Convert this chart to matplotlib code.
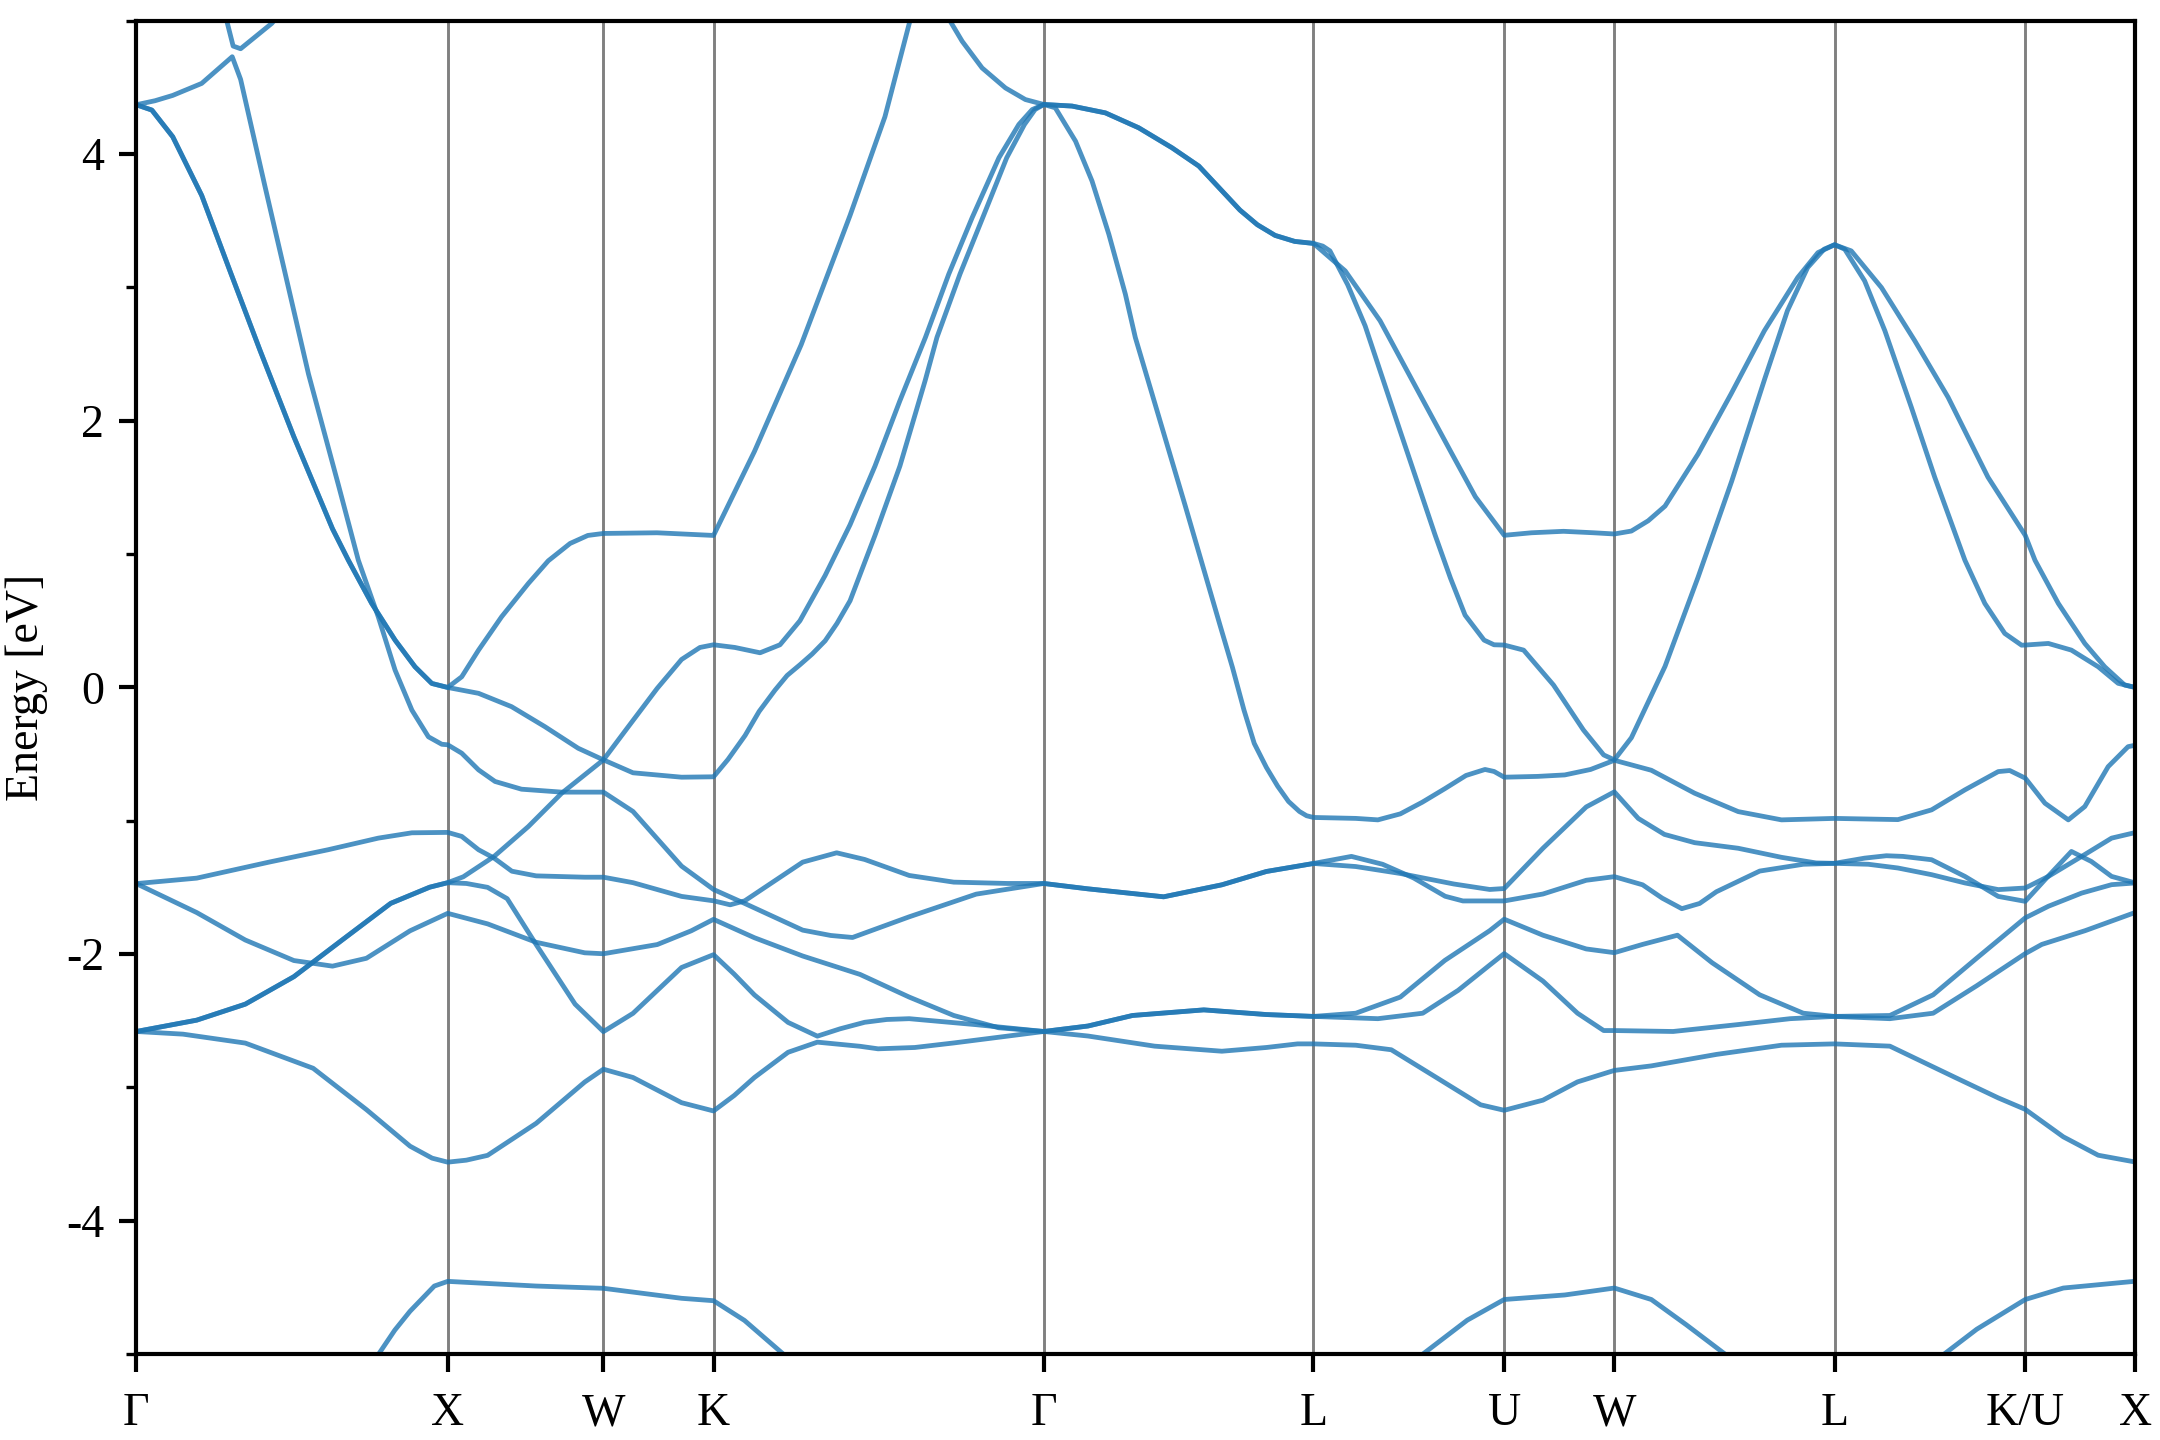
import matplotlib

matplotlib.use("Agg")
import matplotlib.pyplot as plt

plt.rcParams["font.family"] = ["Liberation Serif", "DejaVu Serif"]
plt.rcParams["axes.unicode_minus"] = False

# high-symmetry points along the FCC path (k-distance, 2pi/a units)
KLABELS = ["Γ", "X", "W", "K", "Γ", "L", "U", "W", "L", "K/U", "X"]
KTICKS = [0.0, 1.0, 1.5, 1.8536, 2.9142, 3.7802, 4.3926, 4.7462, 5.4533, 6.0657, 6.4194]

# band energies (eV); each band is a k list and an E list
nan = float("nan")

band_a_k = [0.778, 0.83, 0.879, 0.957, 1.0, 1.284, 1.5, 1.751, 1.8536, 1.953, 2.078, nan,
            4.131, 4.274, 4.3926, 4.587, 4.7462, 4.865, 4.977, 5.102, nan,
            5.805, 5.910, 6.0657, 6.188, 6.4194]
band_a_e = [-5.0, -4.82, -4.678, -4.489, -4.454, -4.489, -4.506, -4.581, -4.599, -4.747, -5.0, nan,
            -5.0, -4.745, -4.590, -4.556, -4.504, -4.590, -4.779, -5.0, nan,
            -5.0, -4.813, -4.590, -4.504, -4.453]

band_b_k = [0.0, 0.15, 0.350, 0.568, 0.739, 0.879, 0.95, 1.0, 1.06, 1.128, 1.284, 1.440, 1.5,
            1.595, 1.751, 1.8536, 1.92, 1.985, 2.093, 2.187, 2.324, 2.382, 2.5, 2.625, 2.78, 2.9142,
            3.056, 3.270, 3.486, 3.629, 3.729, 3.7802, 3.916, 4.030, 4.174, 4.317, 4.3926,
            4.517, 4.628, 4.7462, 4.865, 5.074, 5.283, 5.4533, 5.631, 5.840, 5.979, 6.0657,
            6.188, 6.300, 6.4194]
band_b_e = [-2.58, -2.60, -2.667, -2.856, -3.166, -3.44, -3.53, -3.56, -3.545, -3.509, -3.269, -2.959, -2.863,
            -2.925, -3.114, -3.176, -3.06, -2.925, -2.736, -2.660, -2.691, -2.710, -2.70, -2.666, -2.62, -2.58,
            -2.614, -2.690, -2.728, -2.700, -2.673, -2.673, -2.683, -2.717, -2.924, -3.130, -3.171,
            -3.095, -2.958, -2.872, -2.838, -2.752, -2.683, -2.673, -2.690, -2.924, -3.078, -3.164,
            -3.370, -3.508, -3.559]

band_c_k = [0.0, 0.194, 0.350, 0.506, 0.661, 0.817, 0.942, 1.0, 1.06, 1.128, 1.191, 1.284, 1.409, 1.5,
            1.595, 1.751, 1.8536, 1.92, 1.985, 2.093, 2.187, 2.260, 2.339, 2.41, 2.482, 2.697, 2.9142,
            3.056, 3.199, 3.428, 3.629, 3.7802, 3.987, 4.131, 4.245, 4.346, 4.3926,
            4.517, 4.628, 4.712, 4.7462, 4.935, 5.144, 5.311, 5.4533,
            5.631, 5.770, 5.910, 6.0657, 6.119, 6.258, 6.4194]
band_c_e = [-2.58, -2.495, -2.375, -2.169, -1.894, -1.619, -1.498, -1.464, -1.47, -1.499, -1.584, -1.928, -2.375, -2.581,
            -2.444, -2.100, -2.004, -2.15, -2.306, -2.512, -2.615, -2.56, -2.511, -2.49, -2.484, -2.529, -2.58,
            -2.539, -2.460, -2.418, -2.453, -2.467, -2.484, -2.443, -2.271, -2.082, -1.996,
            -2.202, -2.443, -2.573, -2.573, -2.580, -2.528, -2.484, -2.467,
            -2.484, -2.443, -2.237, -1.996, -1.927, -1.824, -1.687]

band_d_k = [0.0, 0.194, 0.350, 0.506, 0.661, 0.817, 0.942, 1.0, 1.05, 1.149, 1.259, 1.366, 1.5,
            1.580, 1.673, 1.751, 1.81, 1.8536, 1.922, 2.003, 2.067, 2.131, 2.212, 2.292, 2.372, 2.452,
            2.534, 2.609, 2.684, 2.770, 2.834, 2.877, 2.9142,
            3.005, 3.112, 3.219, 3.326, 3.412, 3.50, 3.544, 3.60, 3.657, 3.72, 3.7802,
            3.882, 3.994, 4.128, 4.219, 4.30, 4.3926, 4.48, 4.583, 4.68, 4.7462,
            4.801, 4.855, 4.909, 5.015, 5.121, 5.228, 5.335, 5.400, 5.4533,
            5.507, 5.604, 5.711, 5.818, 5.946, 6.0657, 6.097, 6.172, 6.257, 6.321, 6.385, 6.4194]
band_d_e = [-2.58, -2.495, -2.375, -2.169, -1.894, -1.619, -1.498, -1.464, -1.42, -1.267, -1.043, -0.793, -0.543,
            -0.294, -0.006, 0.21, 0.30, 0.32, 0.30, 0.26, 0.32, 0.50, 0.84, 1.22, 1.66, 2.15,
            2.625, 3.10, 3.523, 3.972, 4.222, 4.334, 4.372,
            4.36, 4.309, 4.197, 4.047, 3.91, 3.69, 3.58, 3.47, 3.39, 3.345, 3.33,
            3.124, 2.75, 2.17, 1.777, 1.43, 1.141, 1.16, 1.171, 1.16, 1.151,
            1.173, 1.25, 1.36, 1.75, 2.201, 2.675, 3.074, 3.261, 3.32,
            3.274, 2.999, 2.6, 2.176, 1.577, 1.141, 0.954, 0.63, 0.33, 0.155, 0.018, 0.0]

band_e_k = [0.0, 0.05, 0.117, 0.210, 0.303, 0.397, 0.506, 0.630, 0.681, 0.756, 0.831, 0.895, 0.949, 1.0,
            1.045, 1.099, 1.173, 1.259, 1.323, 1.393, 1.45, 1.5, 1.672, 1.8536,
            1.985, 2.135, 2.292, 2.404, 2.49, nan,
            2.60, 2.652, 2.716, 2.791, 2.855, 2.9142,
            3.005, 3.112, 3.219, 3.326, 3.412, 3.50, 3.544, 3.60, 3.657, 3.72, 3.7802,
            3.81, 3.833, 3.89, 3.946, 4.058, 4.171, 4.22, 4.267, 4.328, 4.36, 4.3926,
            4.455, 4.551, 4.647, 4.712, 4.7462, 4.801, 4.909, 5.015, 5.123, 5.230, 5.302, 5.367, 5.420, 5.4533,
            5.486, 5.550, 5.615, 5.700, 5.775, 5.872, 5.936, 6.0, 6.054, 6.0657,
            6.140, 6.214, 6.30, 6.364, 6.4194]
band_e_e = [4.37, 4.33, 4.13, 3.69, 3.11, 2.53, 1.88, 1.19, 0.954, 0.63, 0.355, 0.155, 0.03, 0.0,
            0.08, 0.28, 0.53, 0.78, 0.95, 1.08, 1.14, 1.155, 1.16, 1.14,
            1.77, 2.57, 3.54, 4.28, 5.05, nan,
            5.05, 4.846, 4.646, 4.496, 4.409, 4.372,
            4.36, 4.309, 4.197, 4.047, 3.91, 3.69, 3.58, 3.47, 3.39, 3.345, 3.33,
            3.31, 3.274, 3.02, 2.712, 1.926, 1.141, 0.82, 0.542, 0.355, 0.32, 0.318,
            0.280, 0.018, -0.319, -0.506, -0.543, -0.377, 0.158, 0.826, 1.546, 2.32, 2.825, 3.149, 3.287, 3.32,
            3.287, 3.049, 2.675, 2.101, 1.577, 0.954, 0.63, 0.405, 0.317, 0.318,
            0.33, 0.28, 0.155, 0.031, 0.0]

band_f_k = [0.0, 0.05, 0.117, 0.210, 0.303, 0.397, 0.506, 0.630, 0.681, 0.756, 0.831, 0.895, 0.949, 1.0,
            1.099, 1.205, 1.312, 1.419, 1.5, 1.595, 1.751, 1.8536,
            1.90, 1.955, 2.00, 2.051, 2.09, 2.131, 2.17, 2.212, 2.25, 2.292,
            2.372, 2.452, 2.533, 2.571, 2.645, 2.718, 2.795, 2.852, 2.886, 2.9142,
            2.951, 3.016, 3.069, 3.123, 3.176, 3.208, 3.368, 3.480, 3.52, 3.557, 3.59, 3.629, 3.665,
            3.700, 3.735, 3.758, 3.7802,
            3.916, 3.987, 4.059, 4.13, 4.202, 4.27, 4.331, 4.36, 4.3926, 4.50, 4.587, 4.670, 4.72, 4.7462,
            4.865, 5.004, 5.144, 5.283, 5.4533, 5.657, 5.765, 5.872, 5.979, 6.016, 6.0657,
            6.129, 6.204, 6.257, 6.332, 6.396, 6.4194]
band_f_e = [4.37, 4.33, 4.13, 3.69, 3.11, 2.53, 1.88, 1.19, 0.954, 0.63, 0.355, 0.155, 0.03, 0.0,
            -0.044, -0.144, -0.294, -0.456, -0.543, -0.64, -0.673, -0.67,
            -0.54, -0.36, -0.18, -0.02, 0.09, 0.17, 0.25, 0.35, 0.48, 0.65,
            1.14, 1.66, 2.30, 2.625, 3.1, 3.523, 3.972, 4.222, 4.334, 4.372,
            4.347, 4.097, 3.798, 3.399, 2.95, 2.625, 1.365, 0.467, 0.15, -0.17, -0.42, -0.60, -0.74,
            -0.855, -0.93, -0.962, -0.975,
            -0.982, -0.993, -0.948, -0.86, -0.759, -0.66, -0.615, -0.63, -0.673, -0.667, -0.656, -0.615, -0.57, -0.546,
            -0.621, -0.793, -0.931, -0.993, -0.982, -0.991, -0.918, -0.768, -0.631, -0.623, -0.68,
            -0.868, -0.993, -0.893, -0.594, -0.444, -0.433]

band_g_k = [0.0, 0.06, 0.117, 0.210, 0.308, 0.335, 0.412, 0.553, 0.65, 0.713, 0.777, 0.831, 0.885, 0.938, 0.981, 1.0,
            1.045, 1.099, 1.152, 1.237, 1.366, 1.5, 1.595, 1.751, 1.8536, 1.954, 2.140, 2.23, 2.30,
            2.482, 2.697, 2.9142,
            3.055, 3.299, 3.486, 3.629, 3.7802, 3.916, 4.059, 4.231, 4.346, 4.3926,
            4.517, 4.656, 4.7462, 4.823, 4.907, 5.004, 5.144, 5.283, 5.394, 5.4533,
            5.562, 5.657, 5.765, 5.872, 5.979, 6.0657, 6.140, 6.247, 6.343, 6.4194]
band_g_e = [4.37, 4.40, 4.44, 4.53, 4.73, 4.56, 3.77, 2.35, 1.51, 0.954, 0.53, 0.13, -0.17, -0.37, -0.426, -0.43,
            -0.493, -0.618, -0.705, -0.763, -0.785, -0.785, -0.93, -1.34, -1.515, -1.62, -1.82, -1.86, -1.875,
            -1.72, -1.55, -1.47,
            -1.51, -1.57, -1.48, -1.38, -1.32, -1.343, -1.395, -1.474, -1.515, -1.508,
            -1.206, -0.896, -0.783, -0.982, -1.102, -1.164, -1.206, -1.274, -1.316, -1.319,
            -1.326, -1.354, -1.404, -1.466, -1.516, -1.504, -1.417, -1.267, -1.13, -1.088]

band_h_k = [0.0, 0.194, 0.428, 0.616, 0.777, 0.885, 1.0, 1.045, 1.099, 1.149, 1.206, 1.284, 1.440, 1.5,
            1.595, 1.751, 1.8536, 1.907, 1.954, 2.140, 2.249, 2.339, 2.482, 2.625, 2.798, 2.9142,
            3.055, 3.299, 3.486, 3.629, 3.7802, 3.902, 4.002, 4.102, 4.203, 4.260, 4.3926,
            4.517, 4.656, 4.7462, 4.837, 4.90, 4.963, 5.02, 5.074, 5.213, 5.353, 5.4533,
            5.55, 5.62, 5.673, 5.765, 5.872, 5.979, 6.0657, 6.129, 6.214, 6.278, 6.343, 6.4194]
band_h_e = [-1.471, -1.430, -1.309, -1.217, -1.13, -1.09, -1.087, -1.117, -1.217, -1.28, -1.378, -1.413, -1.423, -1.423,
            -1.464, -1.567, -1.60, -1.63, -1.60, -1.31, -1.24, -1.29, -1.41, -1.46, -1.47, -1.47,
            -1.51, -1.57, -1.48, -1.38, -1.32, -1.267, -1.326, -1.429, -1.566, -1.601, -1.601,
            -1.549, -1.446, -1.419, -1.480, -1.58, -1.659, -1.62, -1.532, -1.377, -1.326, -1.319,
            -1.28, -1.262, -1.267, -1.292, -1.417, -1.567, -1.604, -1.442, -1.23, -1.305, -1.417, -1.466]

band_i_k = [0.0, 0.194, 0.350, 0.506, 0.630, 0.739, 0.879, 1.0, 1.128, 1.284, 1.440, 1.5,
            1.673, 1.782, 1.8536, 1.985, 2.140, 2.324, 2.482, 2.625, 2.769, 2.9142,
            3.056, 3.199, 3.428, 3.629, 3.7802, 3.916, 4.059, 4.202, 4.346, 4.3926,
            4.517, 4.656, 4.7462, 4.837, 4.949, 5.060, 5.213, 5.353, 5.4533,
            5.631, 5.770, 5.910, 6.0657, 6.140, 6.247, 6.343, 6.4194]
band_i_e = [-1.471, -1.688, -1.894, -2.048, -2.090, -2.031, -1.825, -1.694, -1.773, -1.911, -1.990, -1.997,
            -1.928, -1.825, -1.739, -1.877, -2.014, -2.152, -2.322, -2.460, -2.552, -2.58,
            -2.539, -2.460, -2.418, -2.453, -2.467, -2.443, -2.322, -2.047, -1.824, -1.738,
            -1.858, -1.961, -1.989, -1.927, -1.858, -2.064, -2.305, -2.443, -2.467,
            -2.460, -2.305, -2.030, -1.728, -1.641, -1.542, -1.479, -1.466]

band_j_k = [0.285, 0.311, 0.335, 0.435, 0.46]
band_j_e = [5.05, 4.81, 4.79, 4.98, 5.05]

BANDS = [
    (band_a_k, band_a_e), (band_b_k, band_b_e), (band_c_k, band_c_e),
    (band_d_k, band_d_e), (band_e_k, band_e_e), (band_f_k, band_f_e),
    (band_g_k, band_g_e), (band_h_k, band_h_e), (band_i_k, band_i_e),
    (band_j_k, band_j_e),
]


def main() -> None:
    fig = plt.figure(figsize=(7.2, 4.8), dpi=300)
    ax = fig.add_axes([0.0631, 0.0596, 0.9255, 0.926])

    for kk, ee in BANDS:
        ax.plot(kk, ee, color="#1f77b4", alpha=0.8, lw=1.15,
                solid_joinstyle="round", solid_capstyle="round")

    for kt in KTICKS[1:-1]:
        ax.axvline(kt, color="gray", lw=0.7, zorder=0)

    ax.set_xlim(KTICKS[0], KTICKS[-1])
    ax.set_ylim(-5, 5)
    ax.set_xticks(KTICKS)
    ax.set_xticklabels(KLABELS)
    ax.set_yticks([-4, -2, 0, 2, 4])
    ax.set_yticks([-5, -3, -1, 1, 3, 5], minor=True)
    ax.set_ylabel("Energy [eV]", fontsize=11, labelpad=4.2)

    ax.tick_params(axis="both", which="major", length=4.2, width=1.0, labelsize=11, direction="out")
    ax.tick_params(axis="y", which="minor", length=2.4, width=0.8)
    ax.tick_params(axis="x", pad=5)
    for spine in ax.spines.values():
        spine.set_linewidth(1.0)

    fig.savefig("out.png", dpi=300)


if __name__ == "__main__":
    main()
